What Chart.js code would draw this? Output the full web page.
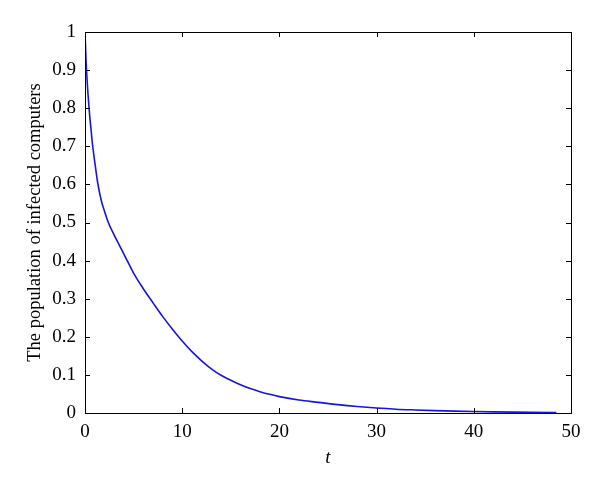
<!DOCTYPE html>
<html>
<head>
<meta charset="utf-8">
<script src="https://cdn.jsdelivr.net/npm/chart.js@4"></script>
<style>
  html, body { margin: 0; padding: 0; background: #fff; }
  #wrap { width: 600px; height: 491px; }
</style>
</head>
<body>
<div id="wrap"><canvas id="chart"></canvas></div>
<script>
// values
const tValues = [0, 0.1, 0.2, 0.3, 0.45, 0.6, 0.75, 1.0, 1.3, 1.7, 2.0, 2.4, 3, 3.5, 4, 4.5, 5, 6, 7, 8, 9, 10,
  11, 12, 13, 14, 15, 16, 17, 18, 19, 20, 22, 24, 26, 28, 30, 32, 34, 36, 38, 40, 42, 44, 46, 48.5];
const infected = [1, 0.93, 0.88, 0.84, 0.79, 0.75, 0.71, 0.66, 0.605, 0.555, 0.53, 0.50, 0.467, 0.442, 0.417, 0.392, 0.367, 0.326, 0.289, 0.253, 0.22, 0.189,
  0.161, 0.137, 0.116, 0.099, 0.086, 0.074, 0.064, 0.056, 0.049, 0.043, 0.034, 0.028, 0.022, 0.017, 0.013, 0.010, 0.008, 0.0063, 0.0049, 0.0038, 0.0029, 0.0022, 0.0016, 0.001];
const xTicks = [0, 10, 20, 30, 40, 50];
const yTicks = [0, 0.1, 0.2, 0.3, 0.4, 0.5, 0.6, 0.7, 0.8, 0.9, 1];

const points = tValues.map((t, i) => ({ x: t, y: infected[i] }));
const serif = "'Liberation Serif', 'DejaVu Serif', serif";

// box around the plot with ticks pointing inward on all four sides
const framePlugin = {
    id: "frame",
    afterDraw(chart) {
        const { ctx, chartArea: a, scales } = chart;
        ctx.save();
        ctx.strokeStyle = "#000";
        ctx.lineWidth = 1;
        ctx.strokeRect(a.left + 0.5, a.top + 0.5, a.right - a.left, a.bottom - a.top);
        ctx.beginPath();
        xTicks.forEach(v => {
            const px = Math.round(scales.x.getPixelForValue(v)) + 0.5;
            ctx.moveTo(px, a.bottom); ctx.lineTo(px, a.bottom - 5);
            ctx.moveTo(px, a.top); ctx.lineTo(px, a.top + 5);
        });
        yTicks.forEach(v => {
            const py = Math.round(scales.y.getPixelForValue(v)) + 0.5;
            ctx.moveTo(a.left, py); ctx.lineTo(a.left + 5, py);
            ctx.moveTo(a.right, py); ctx.lineTo(a.right - 5, py);
        });
        ctx.stroke();
        ctx.restore();
    }
};

new Chart(document.getElementById("chart"), {
    type: "line",
    data: {
        datasets: [{
            data: points,
            borderColor: "#1515e0",
            borderWidth: 1.6,
            pointRadius: 0,
            cubicInterpolationMode: "monotone",
            fill: false
        }]
    },
    options: {
        responsive: true,
        maintainAspectRatio: false,
        animation: false,
        layout: { padding: { top: 32, right: 29, left: 24, bottom: 18 } },
        plugins: { legend: { display: false }, tooltip: { enabled: false } },
        scales: {
            x: {
                type: "linear",
                min: 0, max: 50,
                afterBuildTicks: s => { s.ticks = xTicks.map(v => ({ value: v })); },
                afterFit: s => { s.height = 60; },
                grid: { display: false, drawTicks: false },
                border: { display: false },
                ticks: { color: "#000", font: { family: serif, size: 19 }, padding: 8, maxRotation: 0 },
                title: { display: true, text: "t", color: "#000", font: { family: serif, size: 19, style: "italic" }, padding: { top: 2 } }
            },
            y: {
                min: 0, max: 1,
                afterBuildTicks: s => { s.ticks = yTicks.map(v => ({ value: v })); },
                afterFit: s => { s.width = 61; },
                grid: { display: false, drawTicks: false },
                border: { display: false },
                ticks: { color: "#000", font: { family: serif, size: 19 }, padding: 9, callback: v => String(v) },
                title: { display: true, text: "The population of infected computers", color: "#000", font: { family: serif, size: 18.5 }, padding: { top: 0, bottom: 2 } }
            }
        }
    },
    plugins: [framePlugin]
});
</script>
</body>
</html>
